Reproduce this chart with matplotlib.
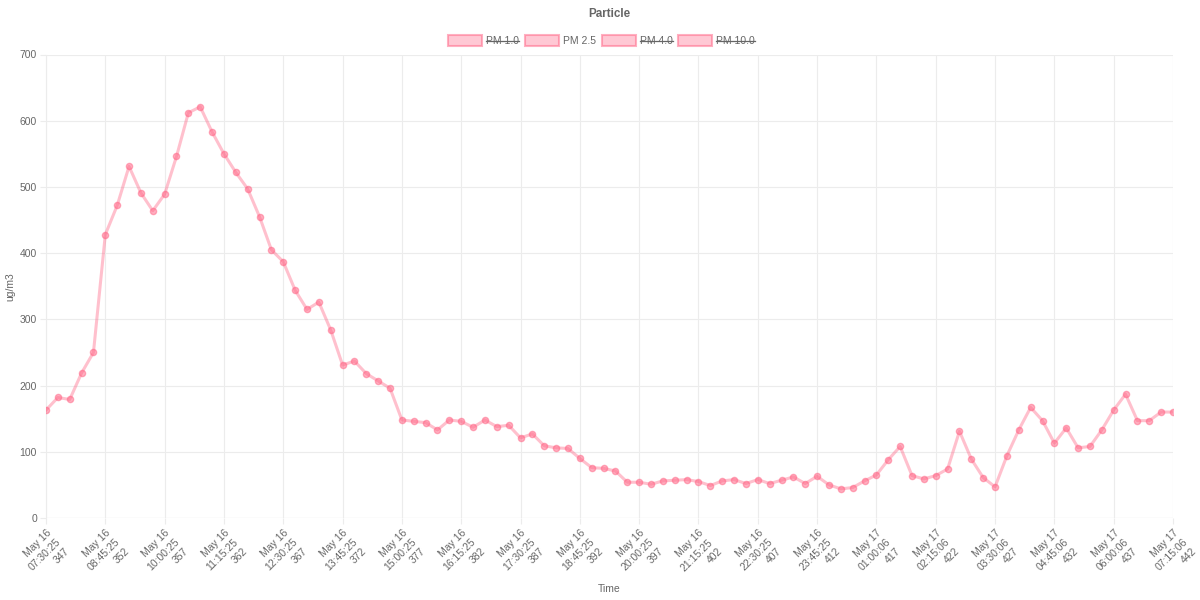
import matplotlib
matplotlib.use("Agg")
import matplotlib.pyplot as plt
from matplotlib.patches import Rectangle

plt.rcParams['font.family'] = ['Liberation Sans', 'DejaVu Sans']

# ---- data ----
ids = list(range(347, 443))
pm25 = [163, 182, 179, 219, 250, 428, 472, 531, 491, 464, 489, 546, 612, 621, 583,
        550, 522, 497, 455, 405, 387, 344, 315, 326, 284, 231, 237, 218, 207, 196,
        148, 146, 144, 133, 148, 146, 137, 148, 138, 140, 121, 127, 109, 106, 105,
        90, 76, 75, 71, 54, 54, 51, 56, 57, 58, 55, 49, 56, 58, 52,
        58, 52, 57, 62, 52, 63, 50, 44, 46, 56, 65, 88, 108, 64, 59,
        64, 74, 131, 89, 61, 47, 94, 133, 167, 147, 113, 136, 106, 108, 133,
        163, 187, 147, 147, 160, 160]
tick_labels = [
    "May 16\n07:30:25\n347", "May 16\n08:45:25\n352", "May 16\n10:00:25\n357",
    "May 16\n11:15:25\n362", "May 16\n12:30:25\n367", "May 16\n13:45:25\n372",
    "May 16\n15:00:25\n377", "May 16\n16:15:25\n382", "May 16\n17:30:25\n387",
    "May 16\n18:45:25\n392", "May 16\n20:00:25\n397", "May 16\n21:15:25\n402",
    "May 16\n22:30:25\n407", "May 16\n23:45:25\n412", "May 17\n01:00:06\n417",
    "May 17\n02:15:06\n422", "May 17\n03:30:06\n427", "May 17\n04:45:06\n432",
    "May 17\n06:00:06\n437", "May 17\n07:15:06\n442",
]
legend_names = ["PM 1.0", "PM 2.5", "PM 4.0", "PM 10.0"]
legend_hidden = [True, False, True, True]
y_ticks = [0, 100, 200, 300, 400, 500, 600, 700]

# ---- styling ----
txt = '#666666'
grid = '#ececec'
line_col = (1.0, 99/255, 132/255, 0.4)
pt_col = (1.0, 99/255, 132/255, 0.5)
fs = 7.5
W, H = 1200, 600

fig = plt.figure(figsize=(12, 6), dpi=100)
ax = fig.add_axes([46/W, 82/H, (1173-46)/W, (518-54.5)/H])

x = list(range(len(ids)))
ax.plot(x, pm25, color=line_col, lw=2.2, zorder=3)
ax.scatter(x, pm25, s=20, color=pt_col, edgecolors=pt_col, linewidths=1, zorder=4)

ax.set_xlim(0, len(ids) - 1)
ax.set_ylim(0, 700)
tick_pos = [i for i, v in enumerate(ids) if (v - ids[0]) % 5 == 0]
ax.set_xticks(tick_pos)
ax.set_xticklabels(tick_labels, rotation=45, ha='right', va='top',
                   rotation_mode='anchor', multialignment='right',
                   fontsize=fs, color=txt, linespacing=1.4)
ax.set_yticks(y_ticks)
ax.set_yticklabels([str(v) for v in y_ticks], fontsize=fs, color=txt)
ax.grid(True, color=grid, lw=0.8)
ax.set_axisbelow(True)
for s in ['top', 'right', 'bottom']:
    ax.spines[s].set_visible(False)
ax.spines['left'].set_color(grid)
ax.tick_params(axis='both', color=grid, length=4.5, width=0.8)
ax.tick_params(axis='x', pad=2.5)
ax.tick_params(axis='y', pad=2)
ax.axhline(0, color='#e0e0e0', lw=0.8, zorder=1)

ax.set_xlabel('Time', fontsize=fs, color=txt)
ax.xaxis.set_label_coords((609-46)/(1173-46), -(584-518)/(518-54.5), transform=ax.transAxes)
ax.set_ylabel('ug/m3', fontsize=fs, color=txt)
ax.yaxis.set_label_coords(-(46-15)/(1173-46), 0.5)

fig.text(609/W, 1 - 14/H, 'Particle', ha='center', va='center',
         fontsize=8.4, fontweight='bold', color=txt)

# legend drawn manually (Chart.js style)
box_x = [448, 525, 602, 678]
for bx, name, hid in zip(box_x, legend_names, legend_hidden):
    r = Rectangle((bx/W, 1 - 46/H), 34/W, 11/H, transform=fig.transFigure,
                  facecolor=(1.0, 99/255, 132/255, 0.35), edgecolor=(1.0, 99/255, 132/255, 0.5),
                  lw=1.5)
    fig.patches.append(r)
    t = fig.text((bx + 38)/W, 1 - 40.5/H, name, ha='left', va='center',
                 fontsize=fs, color=txt)
    if hid:
        fig.canvas.draw()
        bb = t.get_window_extent()
        fig.add_artist(plt.Line2D([bb.x0/W, bb.x1/W], [1 - 40.5/H, 1 - 40.5/H],
                                  transform=fig.transFigure, color=txt, lw=0.9))

fig.savefig('out.png', dpi=100)
